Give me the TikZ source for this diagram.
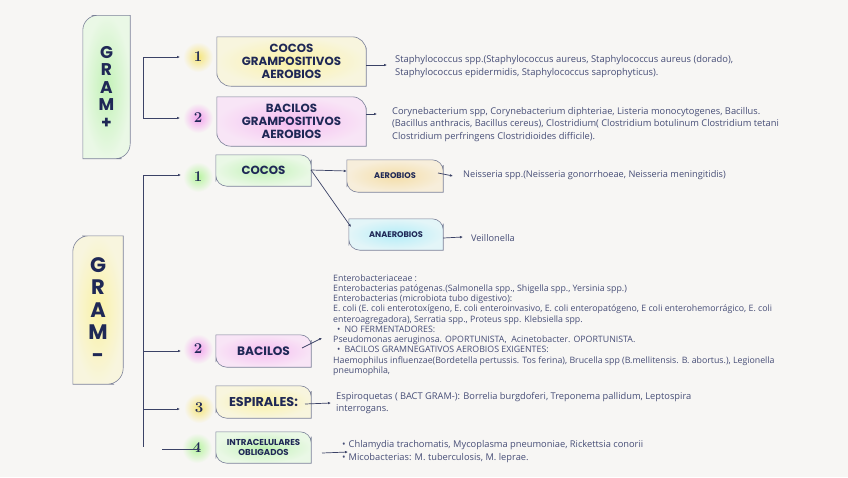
\documentclass[tikz,border=0pt]{standalone}
\usepackage{fontspec}
\setmainfont{Open Sans}
\newfontfamily\titlefont{Poppins}
\newfontfamily\numfont{Latin Modern Roman}
\usetikzlibrary{arrows.meta,backgrounds}

\definecolor{bgcol}{HTML}{F7F6F4}
\definecolor{ink}{HTML}{1F2856}
\definecolor{txt}{HTML}{464D76}
\definecolor{edge}{HTML}{7B8199}
\definecolor{wire}{HTML}{3B4266}
\definecolor{gin}{HTML}{C2F2B6}\definecolor{gout}{HTML}{EAF8E6}
\definecolor{yin}{HTML}{FAF2A6}\definecolor{yout}{HTML}{F8F5DE}
\definecolor{pin}{HTML}{F6BDF1}\definecolor{pout}{HTML}{F8E5F6}
\definecolor{oin}{HTML}{F4DEA8}\definecolor{oout}{HTML}{F7EEDB}
\definecolor{cin}{HTML}{B4EDF8}\definecolor{cout}{HTML}{E3F5F8}
\definecolor{gyel}{HTML}{F6E57A}
\definecolor{gpnk}{HTML}{F4A3EE}
\definecolor{ggrn}{HTML}{B6F49E}

% leaf shapes: NE+SW rounded / NW+SE rounded
\def\leafne[#1](#2)#3{\shade[#1] (#2.north) [rounded corners=#3] -| (#2.east) [sharp corners] |- (#2.south) [rounded corners=#3] -| (#2.west) [sharp corners] |- (#2.north) -- cycle;}
\def\leafnw[#1](#2)#3{\shade[#1] (#2.east) [rounded corners=#3] |- (#2.south) [sharp corners] -| (#2.west) [rounded corners=#3] |- (#2.north) [sharp corners] -| (#2.east) -- cycle;}
\def\glow[#1](#2){\shade[inner color=#1, outer color=bgcol] (#2) circle (15);}

\tikzset{
  box/.style={inner sep=0, align=center, text=ink, font=\titlefont\bfseries},
  num/.style={inner sep=0, text=ink, font=\numfont\fontsize{15}{15}\selectfont\bfseries},
  body/.style={inner sep=0, align=left, anchor=west, text=txt},
  conn/.style={draw=wire, line width=0.7pt},
  arr/.style={conn, -{Latex[length=3pt,width=2.6pt]}},
  rim/.style={draw=edge, line width=0.6pt}
}

\begin{document}
\begin{tikzpicture}[x=1pt,y=-1pt]
	%%%%% START %%%%%
	\begin{scope}[on background layer]
		\fill[bgcol] (0,0) rectangle (848,477);
	\end{scope}
	\useasboundingbox (0,0) rectangle (848,477);

	%% GRAM +
	\node[box, minimum width=47, minimum height=143, font=\titlefont\bfseries\fontsize{17}{17.5}\selectfont] (gramplus) at (106.5,87) {G\\R\\A\\M\\+};
	\node[num] (n1p) at (198,57) {1};
	\node[num] (n2p) at (198,118) {2};
	\node[box, minimum width=149, minimum height=49, font=\titlefont\bfseries\fontsize{11.8}{12.7}\selectfont] (cgp) at (291.5,61.5) {COCOS\\GRAMPOSITIVOS\\AEROBIOS};
	\node[box, minimum width=149, minimum height=49, font=\titlefont\bfseries\fontsize{11.8}{12.7}\selectfont] (bgp) at (291.5,121.5) {BACILOS\\GRAMPOSITIVOS\\AEROBIOS};

	\node[body, font=\fontsize{9.4}{13}\selectfont] (tcgp) at (395,66.5) {Staphylococcus spp.(Staphylococcus aureus, Staphylococcus aureus (dorado),\\Staphylococcus epidermidis, Staphylococcus saprophyticus).};
	\node[body, font=\fontsize{9.3}{12.5}\selectfont] (tbgp) at (392,124.5) {Corynebacterium spp, Corynebacterium diphteriae, Listeria monocytogenes, Bacillus.\\(Bacillus anthracis, Bacillus cereus), Clostridium( Clostridium botulinum Clostridium tetani\\Clostridium perfringens Clostridioides difficile).};

	%% GRAM -
	\node[box, minimum width=50, minimum height=148, font=\titlefont\bfseries\fontsize{21}{22.5}\selectfont] (gramminus) at (98,310) {G\\R\\A\\M\\-};
	\node[num] (n1m) at (198,177) {1};
	\node[num] (n2m) at (198,349) {2};
	\node[num] (n3m) at (199,408) {3};
	\node[num] (n4m) at (197,448) {4};
	\node[box, minimum width=95, minimum height=31, font=\titlefont\bfseries\fontsize{11.8}{12}\selectfont] (cocos) at (263.5,170.5) {COCOS};
	\node[box, minimum width=96, minimum height=32, font=\titlefont\bfseries\fontsize{8.2}{9}\selectfont] (aero) at (395,176) {AEROBIOS};
	\node[box, minimum width=94, minimum height=31, font=\titlefont\bfseries\fontsize{8.2}{9}\selectfont] (anaero) at (396,234.5) {ANAEROBIOS};
	\node[box, minimum width=95, minimum height=32, font=\titlefont\bfseries\fontsize{12.2}{13}\selectfont] (bacilos) at (263.5,351) {\raisebox{-2pt}{BACILOS}};
	\node[box, minimum width=95, minimum height=32, font=\titlefont\bfseries\fontsize{12.8}{13}\selectfont] (espirales) at (263.5,402) {ESPIRALES:};
	\node[box, minimum width=95, minimum height=31, font=\titlefont\bfseries\fontsize{8.6}{10}\selectfont] (intra) at (263.5,447.5) {INTRACELULARES\\OBLIGADOS};

	\node[body, font=\fontsize{9.2}{11}\selectfont] (tneis) at (463,175) {Neisseria spp.(Neisseria gonorrhoeae, Neisseria meningitidis)};
	\node[body, font=\fontsize{9.2}{11}\selectfont] (tveil) at (471,238) {Veillonella};
	\node[body, font=\fontsize{8.8}{10.25}\selectfont] (tbac) at (333,325) {Enterobacteriaceae :\\
		Enterobacterias patógenas.(Salmonella spp., Shigella spp., Yersinia spp.)\\
		Enterobacterias (microbiota tubo digestivo):\\
		E. coli (E. coli enterotoxígeno, E. coli enteroinvasivo, E. coli enteropatógeno, E coli enterohemorrágico, E. coli\\
		enteroagregadora), Serratia spp., Proteus spp. Klebsiella spp.\\
		\hspace{4pt}\textbullet\hspace{4pt}NO FERMENTADORES:\\
		Pseudomonas aeruginosa. OPORTUNISTA,\ \ Acinetobacter. OPORTUNISTA.\\
		\hspace{4pt}\textbullet\hspace{4pt}BACILOS GRAMNEGATIVOS AEROBIOS EXIGENTES:\\
		Haemophilus influenzae(Bordetella pertussis. Tos ferina), Brucella spp (B.mellitensis. B. abortus.), Legionella\\
		pneumophila,};
	\node[body, font=\fontsize{9.3}{12}\selectfont] (tesp) at (336,403) {Espiroquetas ( BACT GRAM-): Borrelia burgdoferi, Treponema pallidum, Leptospira\\interrogans.};
	\node[body, font=\fontsize{9.3}{13}\selectfont] (tintra) at (342,451.5) {\textbullet\hspace{3pt}Chlamydia trachomatis, Mycoplasma pneumoniae, Rickettsia conorii\\\textbullet\hspace{3pt}Micobacterias: M. tuberculosis, M. leprae.};

	%% shapes behind the texts
	\begin{scope}[on background layer]
		\leafnw[rim, inner color=gin, outer color=gout](gramplus){15}
		\leafnw[rim, inner color=yin, outer color=yout](gramminus){16}
		\leafne[rim, inner color=yin, outer color=yout](cgp){14}
		\leafne[rim, inner color=pin, outer color=pout](bgp){14}
		\leafne[rim, inner color=gin, outer color=gout](cocos){11}
		\leafne[rim, inner color=oin, outer color=oout](aero){11}
		\leafne[rim, inner color=cin, outer color=cout](anaero){11}
		\leafne[rim, inner color=pin, outer color=pout](bacilos){11}
		\leafne[rim, inner color=yin, outer color=yout](espirales){11}
		\leafne[rim, inner color=gin, outer color=gout](intra){11}
		\glow[gyel](n1p)
		\glow[gpnk](n2p)
		\glow[ggrn](n1m)
		\glow[gpnk](n2m)
		\glow[gyel](n3m)
		\glow[ggrn](n4m)
	\end{scope}

	%% connectors
	\coordinate (bp1) at (143,57);
	\coordinate (bp2) at (143,118);
	\coordinate (ep1) at (180,57);
	\coordinate (ep2) at (180,118);
	\draw[conn] (bp1) -- (bp2);
	\draw[arr] (bp1) -- (ep1);
	\draw[arr] (bp2) -- (ep2);
	\draw[arr] (cgp.east |- 0,65) -- (387,65);
	\draw[arr] (bgp.east |- 0,114) -- (377,114);

	\coordinate (bm1) at (143,175);
	\coordinate (bm2) at (143,351);
	\coordinate (bm3) at (143,409);
	\coordinate (bm4) at (143,447);
	\draw[conn] (bm1) -- (bm4);
	\draw[arr] (bm1) -- (181,175);
	\draw[arr] (bm2) -- (181,351);
	\draw[arr] (bm3) -- (180,409);
	\draw[arr] (162,449) -- (200,449);

	\coordinate (cj) at (311,170);
	\draw[arr] (cj) -- (aero.west |- 0,171);
	\draw[arr] (cj) -- (351,227);
	\draw[arr] (438,173) -- (453,176);
	\draw[arr] (anaero.east |- 0,238) -- (463,237);
	\draw[arr] (302,348) -- (322,338);
	\draw[arr] (305,404) -- (331,403);
	\draw[arr] (322,453) -- (348,452);
	%%%%% END %%%%%
\end{tikzpicture}
\end{document}
